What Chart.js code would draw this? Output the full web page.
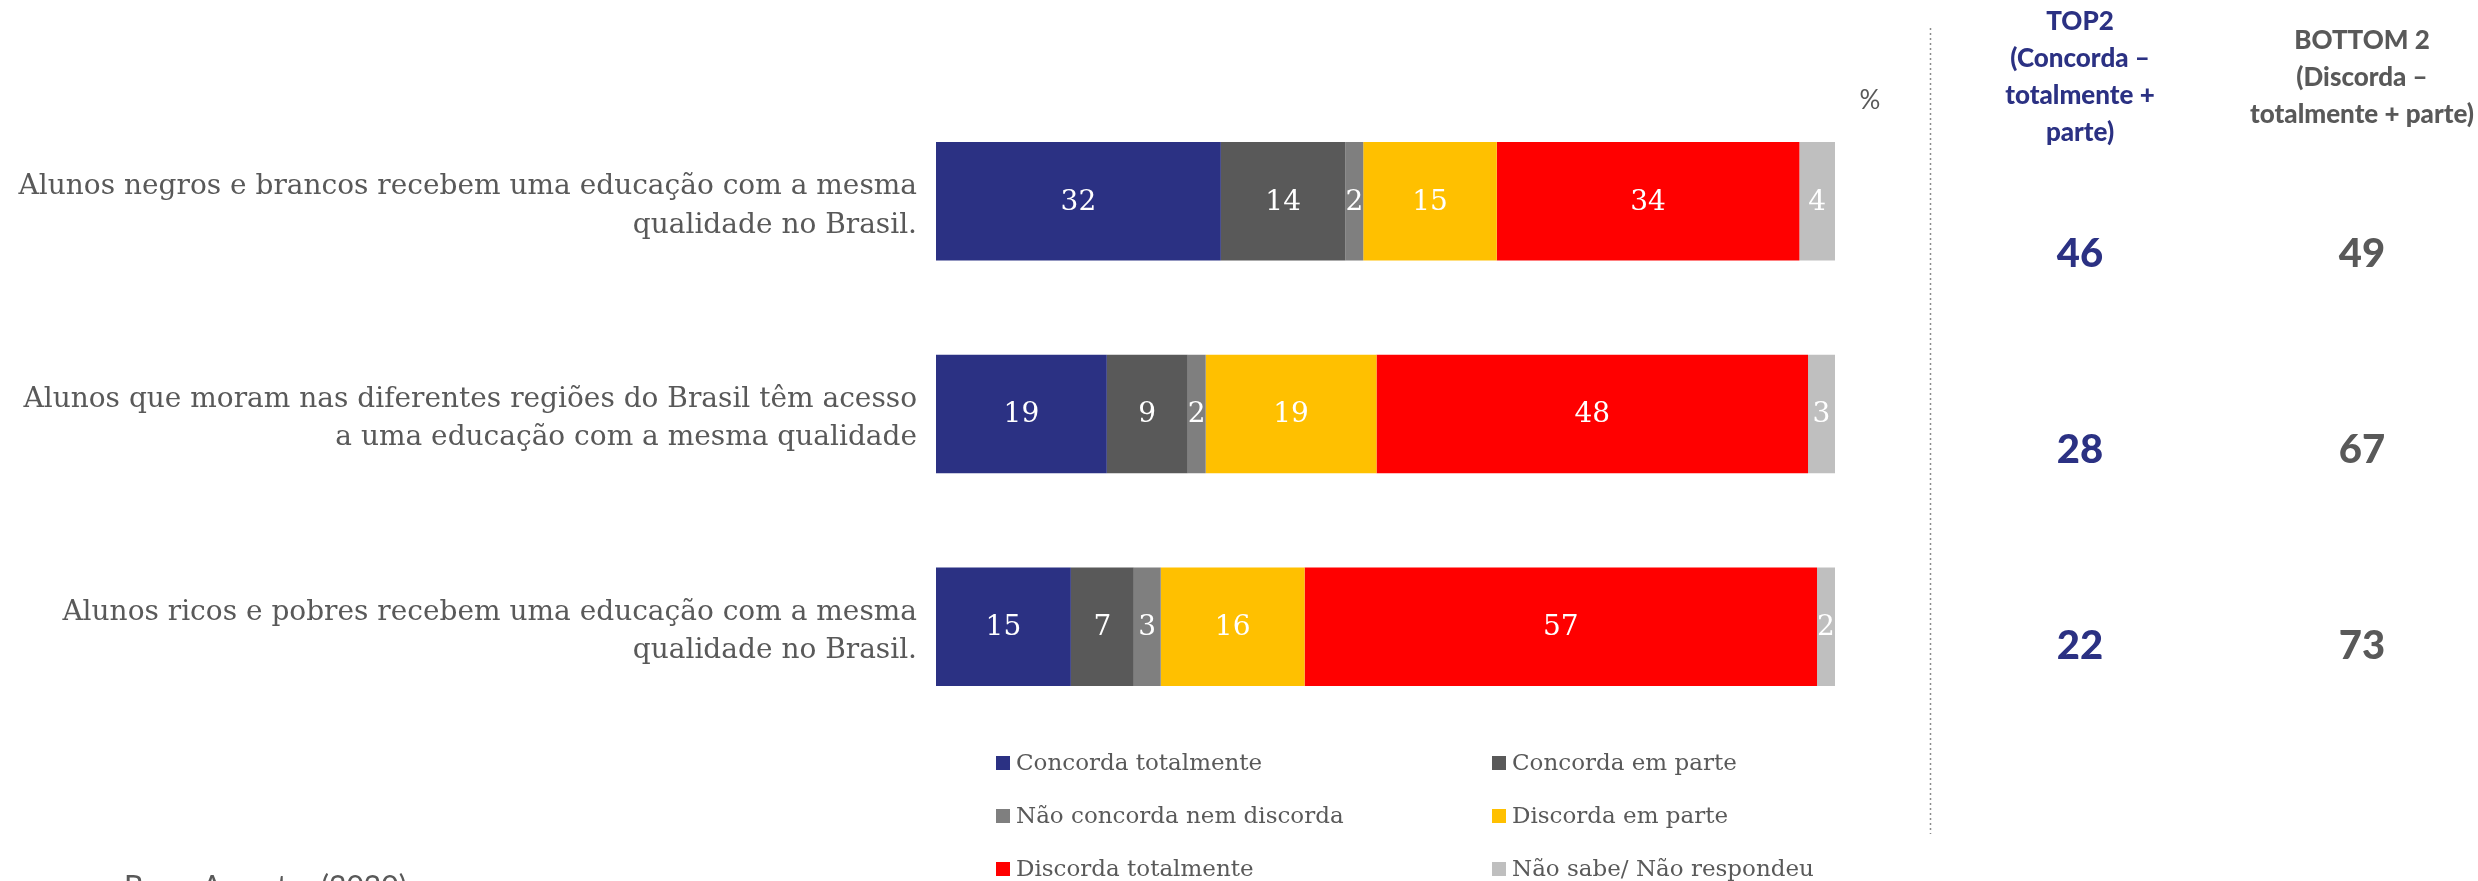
<!DOCTYPE html>
<html>
<head>
<meta charset="utf-8">
<script src="https://cdn.jsdelivr.net/npm/chart.js@4"></script>
<style>
    html, body { margin: 0; padding: 0; background: #fff; overflow: hidden; }
</style>
</head>
<body>
<canvas id="chart" width="2478" height="881"></canvas>
<script>
// dados
const categories = [
    ['Alunos negros e brancos recebem uma educação com a mesma', 'qualidade no Brasil.'],
    ['Alunos que moram nas diferentes regiões do Brasil têm acesso', 'a uma educação com a mesma qualidade'],
    ['Alunos ricos e pobres recebem uma educação com a mesma', 'qualidade no Brasil.']
];
const seriesNames = ['Concorda totalmente', 'Concorda em parte', 'Não concorda nem discorda',
    'Discorda em parte', 'Discorda totalmente', 'Não sabe/ Não respondeu'];
const concordaTotalmente = [32, 19, 15];
const concordaEmParte = [14, 9, 7];
const naoConcordaNemDiscorda = [2, 2, 3];
const discordaEmParte = [15, 19, 16];
const discordaTotalmente = [34, 48, 57];
const naoSabe = [4, 3, 2];
const top2 = [46, 28, 22];
const bottom2 = [49, 67, 73];

const colors = ['#2B3183', '#595959', '#7F7F7F', '#FFC000', '#FF0000', '#BFBFBF'];
const grayText = '#595959';
const navy = '#2B3183';
const slab = '"DejaVu Serif", serif';
const sans = 'Lato, "Open Sans", sans-serif';

const series = [concordaTotalmente, concordaEmParte, naoConcordaNemDiscorda,
    discordaEmParte, discordaTotalmente, naoSabe];
// cada barra ocupa 100% (valores arredondados somam 100 ou 101)
const totals = categories.map((c, i) => series.reduce((s, arr) => s + arr[i], 0));

const datasets = series.map((vals, k) => ({
    label: seriesNames[k],
    data: vals.map((v, i) => v / totals[i] * 100),
    raw: vals,
    backgroundColor: colors[k],
    borderWidth: 0,
    categoryPercentage: 1,
    barPercentage: 0.557
}));

// rótulos brancos dentro das barras
const barLabels = {
    id: 'barLabels',
    afterDatasetsDraw(chart) {
        const ctx = chart.ctx;
        ctx.save();
        ctx.font = '28px ' + slab;
        ctx.fillStyle = '#fff';
        ctx.textAlign = 'center';
        ctx.textBaseline = 'middle';
        chart.data.datasets.forEach((ds, k) => {
            chart.getDatasetMeta(k).data.forEach((bar, i) => {
                ctx.fillText(String(ds.raw[i]), (bar.x + bar.base) / 2, bar.y + 1);
            });
        });
        ctx.restore();
    }
};

// legenda em duas colunas, coluna TOP2 / BOTTOM2 e textos extras
const extras = {
    id: 'extras',
    afterDraw(chart) {
        const ctx = chart.ctx;
        ctx.save();

        // "%"
        ctx.font = '26px ' + sans;
        ctx.fillStyle = grayText;
        ctx.textAlign = 'center';
        ctx.textBaseline = 'middle';
        ctx.fillText('%', 1870, 101);

        // linha pontilhada
        ctx.strokeStyle = '#8c8c8c';
        ctx.lineWidth = 1.5;
        ctx.setLineDash([2, 3]);
        ctx.beginPath();
        ctx.moveTo(1930.5, 28);
        ctx.lineTo(1930.5, 834);
        ctx.stroke();
        ctx.setLineDash([]);

        // cabeçalhos
        const topX = 2080, botX = 2362;
        ctx.font = '900 26px ' + sans;
        ctx.fillStyle = navy;
        ['TOP2', '(Concorda –', 'totalmente +', 'parte)'].forEach((t, j) => {
            ctx.fillText(t, topX, 22 + j * 37);
        });
        ctx.fillStyle = grayText;
        ['BOTTOM 2', '(Discorda –', 'totalmente + parte)'].forEach((t, j) => {
            ctx.fillText(t, botX, 41 + j * 37);
        });

        // valores
        ctx.font = '900 40px ' + sans;
        top2.forEach((v, i) => {
            const y = 254 + i * 196;
            ctx.fillStyle = navy;
            ctx.fillText(String(v), topX, y);
            ctx.fillStyle = grayText;
            ctx.fillText(String(bottom2[i]), botX, y);
        });

        // legenda
        ctx.font = '23px ' + slab;
        ctx.textAlign = 'left';
        chart.data.datasets.forEach((ds, k) => {
            const col = k % 2, row = Math.floor(k / 2);
            const x = col === 0 ? 996 : 1492;
            const y = 763 + row * 53;
            ctx.fillStyle = ds.backgroundColor;
            ctx.fillRect(x, y - 7, 14, 14);
            ctx.fillStyle = grayText;
            ctx.fillText(ds.label, x + 20, y + 1);
        });

        // base (cortada na borda inferior)
        ctx.font = '30px ' + sans;
        ctx.fillStyle = grayText;
        ctx.textBaseline = 'top';
        ctx.fillText('Base: Amostra (2020)', 124, 872);

        ctx.restore();
    }
};

new Chart(document.getElementById('chart'), {
    type: 'bar',
    data: {
        labels: categories,
        datasets: datasets
    },
    options: {
        indexAxis: 'y',
        responsive: false,
        animation: false,
        layout: {
            padding: { left: 0, right: 2478 - 1835, top: 95, bottom: 881 - 733 }
        },
        scales: {
            x: { stacked: true, min: 0, max: 100, display: false },
            y: {
                stacked: true,
                grid: { display: false },
                border: { display: false },
                ticks: {
                    color: grayText,
                    padding: 11,
                    labelOffset: 5,
                    font: { family: slab, size: 28, lineHeight: 1.37 }
                },
                afterFit(scale) { scale.width = 936; }
            }
        },
        plugins: {
            legend: { display: false },
            tooltip: { enabled: false }
        }
    },
    plugins: [barLabels, extras]
});
</script>
</body>
</html>
